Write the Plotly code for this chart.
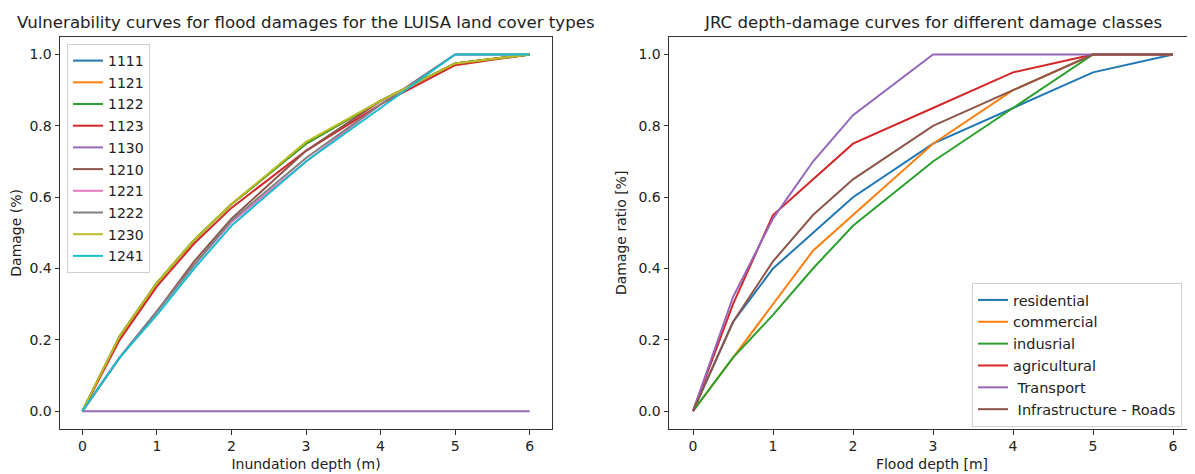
import plotly.graph_objects as go

depths = [0, 0.5, 1, 1.5, 2, 3, 4, 5, 6]

# Left chart: LUISA land cover vulnerability curves
luisa_codes = ["1111", "1121", "1122", "1123", "1130", "1210", "1221", "1222", "1230", "1241"]
luisa_1111 = [0, 0.21, 0.36, 0.48, 0.58, 0.75, 0.87, 0.975, 1.0]
luisa_1121 = [0, 0.21, 0.36, 0.48, 0.58, 0.75, 0.87, 0.975, 1.0]
luisa_1122 = [0, 0.21, 0.36, 0.48, 0.58, 0.75, 0.87, 0.975, 1.0]
luisa_1123 = [0, 0.20, 0.35, 0.47, 0.57, 0.73, 0.86, 0.97, 1.0]
luisa_1130 = [0, 0, 0, 0, 0, 0, 0, 0, 0]
luisa_1210 = [0, 0.15, 0.28, 0.42, 0.54, 0.73, 0.87, 0.975, 1.0]
luisa_1221 = [0, 0.15, 0.28, 0.41, 0.53, 0.70, 0.86, 1.0, 1.0]
luisa_1222 = [0, 0.15, 0.28, 0.41, 0.535, 0.71, 0.86, 1.0, 1.0]
luisa_1230 = [0, 0.21, 0.36, 0.48, 0.58, 0.755, 0.87, 0.975, 1.0]
luisa_1241 = [0, 0.15, 0.27, 0.40, 0.52, 0.70, 0.85, 1.0, 1.0]
luisa_values = [luisa_1111, luisa_1121, luisa_1122, luisa_1123, luisa_1130,
                luisa_1210, luisa_1221, luisa_1222, luisa_1230, luisa_1241]

# Right chart: JRC depth-damage curves
jrc_classes = ["residential", "commercial", "indusrial", "agricultural", " Transport", " Infrastructure - Roads"]
jrc_residential = [0, 0.25, 0.40, 0.50, 0.60, 0.75, 0.85, 0.95, 1.0]
jrc_commercial = [0, 0.15, 0.30, 0.45, 0.55, 0.75, 0.90, 1.0, 1.0]
jrc_industrial = [0, 0.15, 0.27, 0.40, 0.52, 0.70, 0.85, 1.0, 1.0]
jrc_agricultural = [0, 0.30, 0.55, 0.65, 0.75, 0.85, 0.95, 1.0, 1.0]
jrc_transport = [0, 0.32, 0.54, 0.70, 0.83, 1.0, 1.0, 1.0, 1.0]
jrc_roads = [0, 0.25, 0.42, 0.55, 0.65, 0.80, 0.90, 1.0, 1.0]
jrc_values = [jrc_residential, jrc_commercial, jrc_industrial, jrc_agricultural, jrc_transport, jrc_roads]

tab10 = ["#1f77b4", "#ff7f0e", "#2ca02c", "#d62728", "#9467bd",
         "#8c564b", "#e377c2", "#7f7f7f", "#bcbd22", "#17becf"]

# The page body adds an 8px margin, so the figure is sized to fill the rest
OFF = 8
W, H = 1195 - OFF, 474 - OFF
FONT = "DejaVu Sans"


def px(xr):
    return (xr - OFF) / W


def py(yr):
    return (H - (yr - OFF)) / H


fig = go.Figure()
for i, (name, vals) in enumerate(zip(luisa_codes, luisa_values)):
    fig.add_trace(go.Scatter(x=depths, y=vals, mode="lines", name=name,
                             legendgroup="L" + name,
                             line=dict(color=tab10[i], width=2),
                             xaxis="x", yaxis="y", legend="legend"))
for i, (name, vals) in enumerate(zip(jrc_classes, jrc_values)):
    fig.add_trace(go.Scatter(x=depths, y=vals, mode="lines", name=name,
                             legendgroup="R" + str(i),
                             line=dict(color=tab10[i], width=2),
                             xaxis="x2", yaxis="y2", legend="legend2"))

y_dom = [py(429), py(36.7)]
axis_common = dict(showline=True, linecolor="#333", linewidth=1, mirror=True,
                   ticks="outside", ticklen=4.5, tickcolor="#333", tickwidth=1,
                   showgrid=False, zeroline=False,
                   tickfont=dict(family=FONT, size=14, color="#222"))

fig.update_layout(
    width=W, height=H,
    margin=dict(l=0, r=0, t=0, b=0),
    paper_bgcolor="white", plot_bgcolor="white",
    font=dict(family=FONT, color="#222"),
    xaxis=dict(domain=[px(60), px(552)], range=[-0.3, 6.3], tickvals=[0, 1, 2, 3, 4, 5, 6],
               title=dict(text="Inundation depth (m)", font=dict(family=FONT, size=14), standoff=5),
               anchor="y", **axis_common),
    yaxis=dict(domain=y_dom, range=[-0.05, 1.05], tickvals=[0, 0.2, 0.4, 0.6, 0.8, 1.0], tickformat=".1f",
               title=dict(text="Damage (%)", font=dict(family=FONT, size=14), standoff=8),
               anchor="x", **axis_common),
    xaxis2=dict(domain=[px(669), 1.0], range=[-0.3, 6.275], tickvals=[0, 1, 2, 3, 4, 5, 6],
                title=dict(text="Flood depth [m]", font=dict(family=FONT, size=14), standoff=5),
                anchor="y2", **axis_common),
    yaxis2=dict(domain=y_dom, range=[-0.05, 1.05], tickvals=[0, 0.2, 0.4, 0.6, 0.8, 1.0], tickformat=".1f",
                title=dict(text="Damage ratio [%]", font=dict(family=FONT, size=14), standoff=8),
                anchor="x2", **axis_common),
    legend=dict(x=px(67), y=py(44), xanchor="left", yanchor="top",
                bgcolor="rgba(255,255,255,0.8)", bordercolor="#d0d0d0", borderwidth=1,
                font=dict(family=FONT, size=14, color="#222"), tracegroupgap=0.5),
    legend2=dict(x=px(972), y=py(283), xanchor="left", yanchor="top",
                 bgcolor="rgba(255,255,255,0.8)", bordercolor="#d0d0d0", borderwidth=1,
                 font=dict(family=FONT, size=14.5, color="#222"), tracegroupgap=0),
    annotations=[
        dict(text="Vulnerability curves for flood damages for the LUISA land cover types",
             x=px(306), y=py(22), xref="paper", yref="paper", showarrow=False,
             xanchor="center", yanchor="middle", font=dict(family=FONT, size=16.6, color="#222")),
        dict(text="JRC depth-damage curves for different damage classes",
             x=px(933), y=py(22), xref="paper", yref="paper", showarrow=False,
             xanchor="center", yanchor="middle", font=dict(family=FONT, size=16.6, color="#222")),
    ],
)

fig.write_html("out.html")
